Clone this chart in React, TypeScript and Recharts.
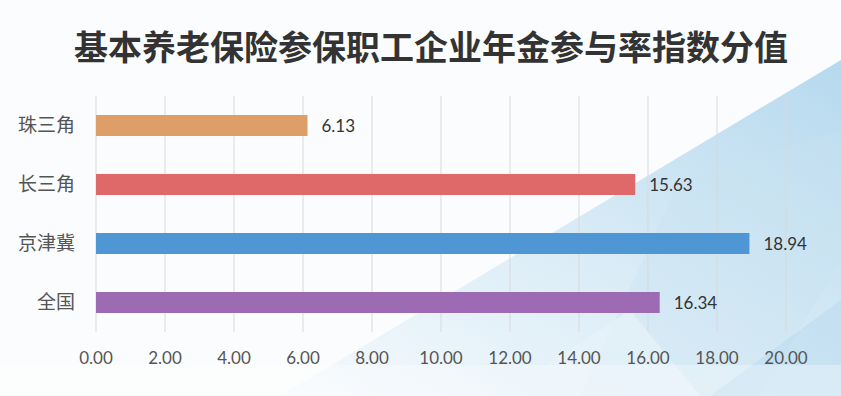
import { BarChart, Bar, XAxis, YAxis, CartesianGrid, Cell, LabelList } from 'recharts'

const categories = ['珠三角', '长三角', '京津冀', '全国']
const values = [6.13, 15.63, 18.94, 16.34]
const colors = ['#dd9f67', '#df6868', '#4f97d4', '#9d6bb3']
const xTicks = [0, 2, 4, 6, 8, 10, 12, 14, 16, 18, 20]

const data = categories.map((name, i) => ({ name, value: values[i] }))

export default function App() {
  return (
    <div style={{ position: 'relative', width: 841, height: 396, overflow: 'hidden', background: '#ffffff' }}>
      <style>{`body{margin:0}`}</style>
      {/* decorative background */}
      <svg width={841} height={396} style={{ position: 'absolute', left: 0, top: 0 }}>
        <defs>
          <linearGradient id="bgA" x1="1" y1="0" x2="0" y2="1">
            <stop offset="0%" stopColor="#b6d9ee" />
            <stop offset="55%" stopColor="#dcedf7" />
            <stop offset="100%" stopColor="#f6fafd" />
          </linearGradient>
        </defs>
        <rect x={0} y={0} width={841} height={396} fill="#fbfcfd" />
        <polygon points="841,60 841,396 280,396" fill="url(#bgA)" />
        <polygon points="680,180 841,130 841,260 760,396 580,396" fill="#c8e2f1" opacity={0.35} />
        <polygon points="841,300 710,396 841,396" fill="#b8d9ed" opacity={0.5} />
        <polygon points="500,396 630,310 700,396" fill="#eaf4fa" opacity={0.6} />
        <rect x={0} y={365} width={841} height={31} fill="#ffffff" opacity={0.3} />
      </svg>
      <div
        style={{
          position: 'absolute',
          left: 0,
          top: 26,
          width: 862,
          textAlign: 'center',
          fontFamily: '"Noto Sans CJK SC", sans-serif',
          fontWeight: 700,
          fontSize: 34,
          color: '#333333',
          lineHeight: '40px',
        }}
      >
        基本养老保险参保职工企业年金参与率指数分值
      </div>
      <div style={{ position: 'absolute', left: 0, top: 0 }}>
        <BarChart
          width={841}
          height={396}
          data={data}
          layout="vertical"
          margin={{ top: 96, right: 55, left: 16, bottom: 24 }}
          barSize={21}
        >
          <CartesianGrid horizontal={false} stroke="#d9d9d9" />
          <XAxis
            type="number"
            domain={[0, 20]}
            ticks={xTicks}
            interval={0}
            axisLine={false}
            tickLine={false}
            height={40}
            tickMargin={14}
            tickFormatter={(v: number) => v.toFixed(2)}
            tick={{ fontSize: 17, fill: '#555555', fontFamily: 'Lato, sans-serif' }}
          />
          <YAxis
            type="category"
            dataKey="name"
            width={80}
            axisLine={false}
            tickLine={false}
            tickMargin={15}
            tick={{ fontSize: 19, fill: '#555555', fontFamily: '"Noto Sans CJK SC", sans-serif' }}
          />
          <Bar dataKey="value" isAnimationActive={false}>
            {data.map((d, i) => (
              <Cell key={d.name} fill={colors[i]} />
            ))}
            <LabelList
              dataKey="value"
              position="right"
              offset={14}
              formatter={(v: number) => v.toFixed(2)}
              style={{ fontSize: 17, fill: '#333333', fontFamily: 'Lato, sans-serif' }}
            />
          </Bar>
        </BarChart>
      </div>
    </div>
  )
}
